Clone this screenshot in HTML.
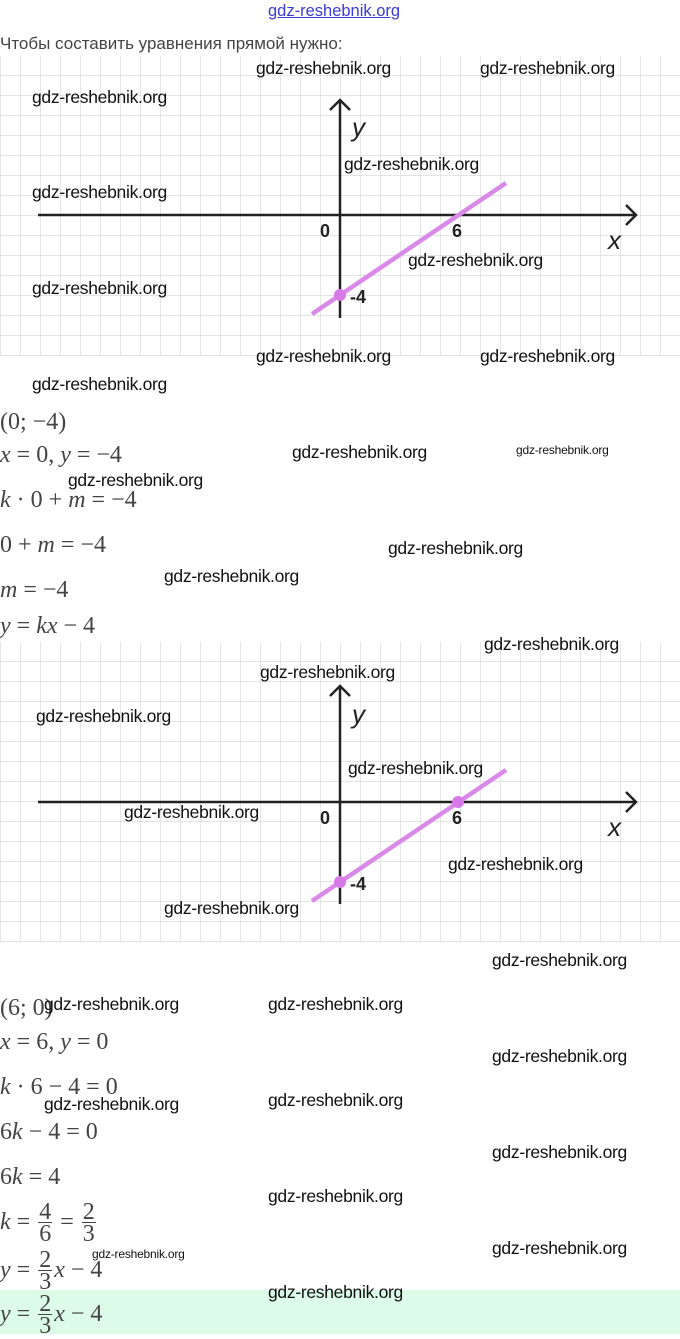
<!DOCTYPE html>
<html><head><meta charset="utf-8"><style>
body{margin:0;width:680px;height:1334px;position:relative;background:#fff;overflow:hidden;font-family:"Liberation Sans",sans-serif}
.w{position:absolute;font-size:17.5px;color:#111;line-height:20px;white-space:nowrap;letter-spacing:-0.3px}
.s{font-size:12px;line-height:12px;letter-spacing:-0.2px}
.m{position:absolute;left:0;font-family:"Liberation Serif",serif;font-size:24px;color:#444;white-space:nowrap;line-height:24px}
.m i{font-style:italic}
.fr{display:inline-block;vertical-align:middle;text-align:center;line-height:22px;margin:0 2px}
.fr span{display:block}
.fr .t{border-bottom:1px solid #444;padding:0 1px;line-height:20px}
svg{position:absolute;left:0}
</style></head><body>
<div style="position:absolute;left:268px;top:2px;font-size:16.5px;color:#3b3bd6;text-decoration:underline">gdz-reshebnik.org</div>
<div style="position:absolute;left:0;top:34px;font-size:17px;color:#444">Чтобы составить уравнения прямой нужно:</div>

<svg width="680" height="300" style="top:56px" viewBox="0 0 680 300">
<defs><pattern id="g" width="20" height="20" patternUnits="userSpaceOnUse" x="0" y="-1"><path d="M0 0H20M0 0V20" stroke="#dcdcdc" stroke-width="1.4" fill="none"/></pattern></defs>
<rect width="680" height="300" fill="url(#g)"/>
<line x1="38" y1="159" x2="636" y2="159" stroke="#222" stroke-width="2.5"/>
<path d="M626 149L636 159L626 169" stroke="#222" stroke-width="2.5" fill="none"/>
<line x1="340" y1="44" x2="340" y2="262" stroke="#222" stroke-width="2.5"/>
<path d="M330 54L340 44L350 54" stroke="#222" stroke-width="2.5" fill="none"/>
<line x1="312" y1="258" x2="506" y2="127" stroke="#d98ae8" stroke-width="4.5"/>
<circle cx="340" cy="239" r="6" fill="#d77ae8"/>
<text x="352" y="80" font-family="Liberation Sans" font-style="italic" font-size="26" fill="#222">y</text>
<text x="608" y="193" font-family="Liberation Sans" font-style="italic" font-size="26" fill="#222">x</text>
<text x="320" y="181" font-family="Liberation Sans" font-weight="bold" font-size="18" fill="#222">0</text>
<text x="452" y="181" font-family="Liberation Sans" font-weight="bold" font-size="18" fill="#222">6</text>
<text x="350" y="247" font-family="Liberation Sans" font-weight="bold" font-size="18" fill="#222">-4</text>
</svg>

<svg width="680" height="300" style="top:642px" viewBox="0 0 680 300">
<defs><pattern id="g2" width="20" height="20" patternUnits="userSpaceOnUse" x="0" y="-1"><path d="M0 0H20M0 0V20" stroke="#dcdcdc" stroke-width="1.4" fill="none"/></pattern></defs>
<rect width="680" height="300" fill="url(#g2)"/>
<line x1="38" y1="160" x2="636" y2="160" stroke="#222" stroke-width="2.5"/>
<path d="M626 150L636 160L626 170" stroke="#222" stroke-width="2.5" fill="none"/>
<line x1="340" y1="44" x2="340" y2="262" stroke="#222" stroke-width="2.5"/>
<path d="M330 54L340 44L350 54" stroke="#222" stroke-width="2.5" fill="none"/>
<line x1="312" y1="259" x2="506" y2="128" stroke="#d98ae8" stroke-width="4.5"/>
<circle cx="340" cy="240" r="6" fill="#d77ae8"/>
<circle cx="458" cy="160" r="6" fill="#d77ae8"/>
<text x="352" y="81" font-family="Liberation Sans" font-style="italic" font-size="26" fill="#222">y</text>
<text x="608" y="194" font-family="Liberation Sans" font-style="italic" font-size="26" fill="#222">x</text>
<text x="320" y="182" font-family="Liberation Sans" font-weight="bold" font-size="18" fill="#222">0</text>
<text x="452" y="182" font-family="Liberation Sans" font-weight="bold" font-size="18" fill="#222">6</text>
<text x="350" y="248" font-family="Liberation Sans" font-weight="bold" font-size="18" fill="#222">-4</text>
</svg>

<div style="position:absolute;left:0;top:1290px;width:680px;height:44px;background:#dcfce9"></div>

<div class="m" style="top:410px">(0; −4)</div>
<div class="m" style="top:443px"><i>x</i> = 0, <i>y</i> = −4</div>
<div class="m" style="top:488px"><i>k</i> · 0 + <i>m</i> = −4</div>
<div class="m" style="top:533px">0 + <i>m</i> = −4</div>
<div class="m" style="top:578px"><i>m</i> = −4</div>
<div class="m" style="top:614px"><i>y</i> = <i>kx</i> − 4</div>

<div class="m" style="top:996px">(6; 0)</div>
<div class="m" style="top:1030px"><i>x</i> = 6, <i>y</i> = 0</div>
<div class="m" style="top:1075px"><i>k</i> · 6 − 4 = 0</div>
<div class="m" style="top:1120px">6<i>k</i> − 4 = 0</div>
<div class="m" style="top:1165px">6<i>k</i> = 4</div>
<div class="m" style="top:1200px;line-height:44px"><i>k</i> = <span class="fr"><span class="t">4</span><span>6</span></span> = <span class="fr"><span class="t">2</span><span>3</span></span></div>
<div class="m" style="top:1248px;line-height:44px"><i>y</i> = <span class="fr"><span class="t">2</span><span>3</span></span><i>x</i> − 4</div>
<div class="m" style="top:1292px;line-height:44px"><i>y</i> = <span class="fr"><span class="t">2</span><span>3</span></span><i>x</i> − 4</div>

<div class="w" style="left:256px;top:58px">gdz-reshebnik.org</div>
<div class="w" style="left:480px;top:58px">gdz-reshebnik.org</div>
<div class="w" style="left:32px;top:87px">gdz-reshebnik.org</div>
<div class="w" style="left:344px;top:154px">gdz-reshebnik.org</div>
<div class="w" style="left:32px;top:182px">gdz-reshebnik.org</div>
<div class="w" style="left:408px;top:250px">gdz-reshebnik.org</div>
<div class="w" style="left:32px;top:278px">gdz-reshebnik.org</div>
<div class="w" style="left:256px;top:346px">gdz-reshebnik.org</div>
<div class="w" style="left:480px;top:346px">gdz-reshebnik.org</div>
<div class="w" style="left:32px;top:374px">gdz-reshebnik.org</div>
<div class="w" style="left:292px;top:442px">gdz-reshebnik.org</div>
<div class="w s" style="left:516px;top:444px">gdz-reshebnik.org</div>
<div class="w" style="left:68px;top:470px">gdz-reshebnik.org</div>
<div class="w" style="left:388px;top:538px">gdz-reshebnik.org</div>
<div class="w" style="left:164px;top:566px">gdz-reshebnik.org</div>
<div class="w" style="left:484px;top:634px">gdz-reshebnik.org</div>
<div class="w" style="left:260px;top:662px">gdz-reshebnik.org</div>
<div class="w" style="left:36px;top:706px">gdz-reshebnik.org</div>
<div class="w" style="left:348px;top:758px">gdz-reshebnik.org</div>
<div class="w" style="left:124px;top:802px">gdz-reshebnik.org</div>
<div class="w" style="left:448px;top:854px">gdz-reshebnik.org</div>
<div class="w" style="left:164px;top:898px">gdz-reshebnik.org</div>
<div class="w" style="left:492px;top:950px">gdz-reshebnik.org</div>
<div class="w" style="left:44px;top:994px">gdz-reshebnik.org</div>
<div class="w" style="left:268px;top:994px">gdz-reshebnik.org</div>
<div class="w" style="left:492px;top:1046px">gdz-reshebnik.org</div>
<div class="w" style="left:44px;top:1094px">gdz-reshebnik.org</div>
<div class="w" style="left:268px;top:1090px">gdz-reshebnik.org</div>
<div class="w" style="left:492px;top:1142px">gdz-reshebnik.org</div>
<div class="w" style="left:268px;top:1186px">gdz-reshebnik.org</div>
<div class="w" style="left:492px;top:1238px">gdz-reshebnik.org</div>
<div class="w s" style="left:92px;top:1248px">gdz-reshebnik.org</div>
<div class="w" style="left:268px;top:1282px">gdz-reshebnik.org</div>
</body></html>
